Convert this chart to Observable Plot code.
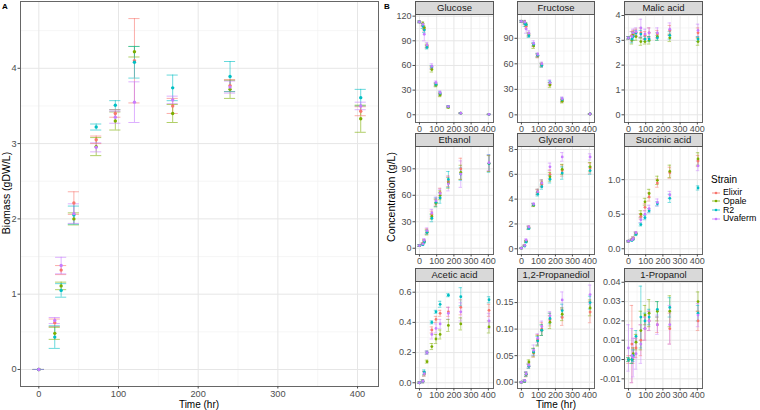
<!DOCTYPE html>
<html><head><meta charset="utf-8">
<script src="https://cdn.jsdelivr.net/npm/d3@7"></script>
<script src="https://cdn.jsdelivr.net/npm/@observablehq/plot@0.6"></script>
<style>
body{margin:0;background:#fff;font-family:"Liberation Sans",Arial,sans-serif;}
#root{position:relative;width:760px;height:410px;overflow:hidden;background:#fff;}
.abs{position:absolute;white-space:nowrap;}
.strip{position:absolute;background:#d9d9d9;border:1px solid #555;box-sizing:border-box;font-size:9.5px;color:#1a1a1a;text-align:center;}
.svgbox{position:absolute;}
</style></head><body><div id="root"></div>
<script>
// ---- data ----
const times = [0, 20, 28, 44, 72, 96, 120, 168, 240, 404];
const strains = ["Elixir", "Opale", "R2", "Uvaferm"];
const strainColors = ["#F8766D", "#7CAE00", "#00BFC4", "#C77CFF"];
const timeTicks = [0, 100, 200, 300, 400];
const timeMinor = [50, 150, 250, 350];

// Panel A: biomass (gDW/L), rows = Elixir, Opale, R2, Uvaferm
const biomassMean = [
  [0, 0.62, 1.32, 2.21, 3.05, 3.40, 4.10, 3.50, 3.77, 3.43],
  [0, 0.48, 1.11, 2.00, 2.96, 3.30, 4.22, 3.40, 3.72, 3.33],
  [0, 0.43, 1.05, 2.05, 3.22, 3.51, 4.08, 3.74, 3.89, 3.61],
  [0, 0.65, 1.38, 2.07, 2.95, 3.35, 3.55, 3.58, 3.75, 3.50]];
const biomassSd = [
  [0, 0.05, 0.06, 0.15, 0.05, 0.05, 0.56, 0.10, 0.08, 0.06],
  [0, 0.08, 0.05, 0.08, 0.12, 0.12, 0.07, 0.12, 0.12, 0.18],
  [0, 0.15, 0.09, 0.12, 0.04, 0.06, 0.21, 0.17, 0.20, 0.11],
  [0, 0.04, 0.11, 0.13, 0.06, 0.08, 0.27, 0.05, 0.08, 0.05]];
const biomassTicks = [0, 1, 2, 3, 4];

// Panel B compounds (g/L)
const glucoseMean = [
  [113, 109, 104, 83, 57, 37, 25, 10, 2, 0.5],
  [113, 111, 106, 84, 55, 36, 24, 9, 2, 0.5],
  [113, 108, 103, 82, 58, 37, 26, 10, 2, 0.5],
  [113, 110, 98, 85, 59, 39, 27, 10, 2, 0.5]];
const glucoseSd = [
  [1, 2, 2, 2, 2, 2, 2, 1, 0.5, 0.3],
  [1, 2, 2, 2, 3, 2, 2, 1, 0.5, 0.3],
  [1, 3, 3, 2, 2, 2, 2, 1, 0.5, 0.3],
  [1, 2, 8, 3, 3, 2, 2, 1, 0.5, 0.3]];
const fructoseMean = [
  [110, 108, 104, 94, 82, 69, 58, 36, 17, 1],
  [110, 109, 106, 95, 81, 70, 59, 35, 16, 1],
  [110, 107, 106, 93, 83, 70, 58, 38, 18, 1],
  [110, 109, 101, 96, 84, 71, 60, 38, 19, 1]];
const fructoseSd = [
  [1, 2, 2, 2, 2, 2, 2, 2, 2, 0.5],
  [1, 2, 2, 2, 3, 2, 2, 3, 2, 0.5],
  [1, 3, 2, 2, 2, 2, 2, 2, 2, 0.5],
  [1, 2, 5, 3, 3, 2, 2, 3, 2, 0.5]];
const malicMean = [
  [3.10, 3.20, 3.30, 3.30, 3.30, 3.20, 3.30, 3.25, 3.40, 3.30],
  [3.10, 3.00, 3.25, 3.15, 2.95, 2.95, 3.00, 3.15, 3.10, 2.95],
  [3.10, 3.05, 3.15, 3.30, 3.25, 3.05, 3.05, 3.10, 3.20, 3.05],
  [3.10, 3.15, 3.30, 3.35, 3.50, 3.25, 3.30, 3.30, 3.45, 3.40]];
const malicSd = [
  [0.05, 0.15, 0.10, 0.15, 0.20, 0.15, 0.20, 0.15, 0.20, 0.20],
  [0.05, 0.15, 0.10, 0.15, 0.15, 0.10, 0.15, 0.15, 0.15, 0.15],
  [0.05, 0.15, 0.15, 0.10, 0.15, 0.10, 0.10, 0.10, 0.15, 0.10],
  [0.05, 0.20, 0.15, 0.15, 0.35, 0.20, 0.20, 0.20, 0.25, 0.25]];
const ethanolMean = [
  [3, 5, 8, 19, 38, 52, 63, 76, 90, 96],
  [3, 5, 8, 18, 36, 51, 60, 74, 86, 96],
  [3, 4, 7, 18, 34, 52, 57, 78, 84, 96],
  [3, 5, 9, 20, 40, 54, 62, 73, 84, 97]];
const ethanolSd = [
  [1, 1, 1.5, 3, 4, 4, 5, 6, 12, 9],
  [1, 1, 1.5, 3, 3, 4, 5, 6, 8, 9],
  [1, 1, 1.5, 2, 4, 5, 6, 9, 7, 10],
  [1, 1, 2, 3, 4, 4, 5, 8, 15, 9]];
const glycerolMean = [
  [0.05, 0.25, 0.60, 1.70, 3.55, 4.55, 5.20, 6.00, 6.30, 6.50],
  [0.05, 0.25, 0.60, 1.70, 3.50, 4.60, 5.30, 5.80, 6.40, 6.60],
  [0.05, 0.22, 0.55, 1.65, 3.55, 4.40, 5.00, 5.60, 6.10, 6.30],
  [0.05, 0.27, 0.70, 1.75, 3.60, 4.60, 5.30, 6.60, 7.40, 7.40]];
const glycerolSd = [
  [0.03, 0.05, 0.08, 0.12, 0.10, 0.20, 0.25, 0.35, 0.45, 0.40],
  [0.03, 0.05, 0.08, 0.12, 0.10, 0.20, 0.25, 0.35, 0.40, 0.35],
  [0.03, 0.05, 0.08, 0.10, 0.10, 0.15, 0.20, 0.30, 0.50, 0.30],
  [0.03, 0.05, 0.10, 0.12, 0.10, 0.20, 0.25, 0.30, 0.35, 0.25]];
const succinicMean = [
  [0.11, 0.13, 0.15, 0.22, 0.47, 0.60, 0.75, 0.95, 1.10, 1.27],
  [0.11, 0.13, 0.15, 0.22, 0.50, 0.68, 0.80, 0.99, 1.12, 1.30],
  [0.11, 0.12, 0.14, 0.21, 0.35, 0.45, 0.55, 0.65, 0.73, 0.88],
  [0.11, 0.13, 0.15, 0.23, 0.42, 0.50, 0.58, 0.67, 0.78, 1.20]];
const succinicSd = [
  [0.01, 0.01, 0.02, 0.02, 0.04, 0.05, 0.06, 0.06, 0.08, 0.08],
  [0.01, 0.01, 0.02, 0.02, 0.05, 0.05, 0.06, 0.06, 0.09, 0.09],
  [0.01, 0.01, 0.01, 0.02, 0.02, 0.03, 0.03, 0.03, 0.06, 0.03],
  [0.01, 0.01, 0.02, 0.02, 0.04, 0.05, 0.05, 0.05, 0.05, 0.07]];
const aceticMean = [
  [0.00, 0.01, 0.06, 0.20, 0.35, 0.42, 0.46, 0.47, 0.50, 0.48],
  [0.00, 0.01, 0.06, 0.14, 0.24, 0.29, 0.32, 0.38, 0.39, 0.37],
  [0.00, 0.01, 0.07, 0.20, 0.40, 0.47, 0.52, 0.58, 0.57, 0.55],
  [0.00, 0.01, 0.06, 0.20, 0.32, 0.36, 0.39, 0.46, 0.47, 0.41]];
const aceticSd = [
  [0.005, 0.01, 0.015, 0.01, 0.02, 0.02, 0.02, 0.03, 0.05, 0.04],
  [0.005, 0.01, 0.015, 0.01, 0.02, 0.03, 0.03, 0.04, 0.04, 0.04],
  [0.005, 0.01, 0.015, 0.01, 0.01, 0.01, 0.02, 0.01, 0.06, 0.02],
  [0.005, 0.01, 0.015, 0.01, 0.03, 0.03, 0.03, 0.04, 0.06, 0.05]];
const propanediolMean = [
  [0, 0.002, 0.014, 0.030, 0.055, 0.080, 0.100, 0.118, 0.122, 0.132],
  [0, 0.002, 0.015, 0.038, 0.056, 0.078, 0.098, 0.113, 0.128, 0.140],
  [0, 0.002, 0.015, 0.030, 0.057, 0.078, 0.098, 0.120, 0.135, 0.150],
  [0, 0.003, 0.016, 0.032, 0.060, 0.083, 0.105, 0.125, 0.155, 0.165]];
const propanediolSd = [
  [0.001, 0.002, 0.004, 0.004, 0.008, 0.010, 0.012, 0.012, 0.015, 0.020],
  [0.001, 0.002, 0.004, 0.004, 0.008, 0.010, 0.010, 0.012, 0.012, 0.015],
  [0.001, 0.002, 0.004, 0.004, 0.006, 0.008, 0.010, 0.010, 0.012, 0.012],
  [0.001, 0.002, 0.004, 0.004, 0.010, 0.008, 0.010, 0.008, 0.015, 0.018]];
const propanolMean = [
  [0.000, 0.008, 0.002, 0.006, 0.010, 0.016, 0.020, 0.018, 0.016, 0.020],
  [0.000, 0.000, 0.003, 0.009, 0.015, 0.023, 0.024, 0.025, 0.025, 0.030],
  [0.000, 0.000, 0.002, 0.012, 0.022, 0.020, 0.022, 0.026, 0.027, 0.024],
  [0.006, 0.002, 0.001, 0.003, 0.008, 0.016, 0.020, 0.018, 0.018, 0.023]];
const propanolSd = [
  [0.002, 0.020, 0.004, 0.005, 0.008, 0.006, 0.005, 0.004, 0.008, 0.005],
  [0.001, 0.002, 0.003, 0.004, 0.010, 0.005, 0.007, 0.005, 0.008, 0.005],
  [0.001, 0.002, 0.003, 0.003, 0.016, 0.004, 0.004, 0.004, 0.005, 0.004],
  [0.012, 0.014, 0.010, 0.008, 0.010, 0.006, 0.005, 0.005, 0.010, 0.006]];

// facet definitions: title, arrays, ticks, label decimals
const facetTitles = ["Glucose", "Fructose", "Malic acid", "Ethanol", "Glycerol", "Succinic acid", "Acetic acid", "1,2-Propanediol", "1-Propanol"];
const facetMeans = [glucoseMean, fructoseMean, malicMean, ethanolMean, glycerolMean, succinicMean, aceticMean, propanediolMean, propanolMean];
const facetSds = [glucoseSd, fructoseSd, malicSd, ethanolSd, glycerolSd, succinicSd, aceticSd, propanediolSd, propanolSd];
const facetTicks = [[0, 30, 60, 90, 120], [0, 30, 60, 90], [0, 1, 2, 3, 4], [0, 30, 60, 90], [0, 2, 4, 6, 8], [0, 0.5, 1.0], [0, 0.2, 0.4, 0.6], [0, 0.05, 0.10, 0.15], [-0.01, 0, 0.01, 0.02, 0.03, 0.04]];
const facetDecimals = [0, 0, 0, 0, 0, 1, 1, 2, 2];
const facetDomains = [[-9.4, 122], [-9, 118], [-0.31, 4.04], [-7.1, 115.3], [-0.46, 8.24], [-0.083, 1.48], [-0.038, 0.671], [-0.0119, 0.1897], [-0.0150, 0.0404]];

// ---- layout ----
const FONT = '"Liberation Sans", Arial, sans-serif';
const root = document.getElementById("root");
function rows(mean, sd) {
  const out = [];
  strains.forEach((s, i) => times.forEach((t, j) => {
    out.push({strain: s, t, v: mean[i][j], lo: mean[i][j] - sd[i][j], hi: mean[i][j] + sd[i][j]});
  }));
  return out;
}
function midpoints(ticks) {
  const m = [];
  for (let i = 0; i < ticks.length - 1; i++) m.push((ticks[i] + ticks[i + 1]) / 2);
  return m;
}
function errMarks(data, cap, r, sw) {
  return [
    Plot.ruleX(data, {x: "t", y1: "lo", y2: "hi", stroke: "strain", strokeWidth: sw, strokeOpacity: 0.85}),
    Plot.ruleY(data, {y: "lo", x1: d => d.t - cap, x2: d => d.t + cap, stroke: "strain", strokeWidth: sw, strokeOpacity: 0.85}),
    Plot.ruleY(data, {y: "hi", x1: d => d.t - cap, x2: d => d.t + cap, stroke: "strain", strokeWidth: sw, strokeOpacity: 0.85}),
    Plot.dot(data, {x: "t", y: "v", fill: "strain", r, stroke: null})
  ];
}
function place(el, left, top) {
  const box = document.createElement("div");
  box.className = "svgbox";
  box.style.left = left + "px";
  box.style.top = top + "px";
  box.appendChild(el);
  root.appendChild(box);
}
function text(str, left, top, opts = {}) {
  const d = document.createElement("div");
  d.className = "abs";
  d.textContent = str;
  d.style.left = left + "px";
  d.style.top = top + "px";
  d.style.fontSize = (opts.size || 10) + "px";
  d.style.color = opts.color || "#000";
  if (opts.bold) d.style.fontWeight = "bold";
  root.appendChild(d);
  return d;
}
const colorScale = {domain: strains, range: strainColors};
const baseStyle = {fontFamily: FONT, background: "transparent", overflow: "visible"};

// ---- Panel A ----
const A = Plot.plot({
  width: 380, height: 406, marginLeft: 20, marginRight: 2, marginTop: 1, marginBottom: 20,
  x: {domain: [-23, 426.3]},
  y: {domain: [-0.226, 4.887]},
  color: colorScale,
  style: baseStyle,
  marks: [
    Plot.gridY(midpoints(biomassTicks).concat([4.5]), {stroke: "#f2f2f2", strokeOpacity: 1, strokeWidth: 0.7}),
    Plot.gridX(timeMinor, {stroke: "#f2f2f2", strokeOpacity: 1, strokeWidth: 0.7}),
    Plot.gridY(biomassTicks, {stroke: "#e6e6e6", strokeOpacity: 1, strokeWidth: 1}),
    Plot.gridX(timeTicks, {stroke: "#e6e6e6", strokeOpacity: 1, strokeWidth: 1}),
    ...errMarks(rows(biomassMean, biomassSd), 7, 1.7, 0.7),
    Plot.frame({stroke: "#666", strokeWidth: 1}),
    Plot.axisX(timeTicks, {tickSize: 2.5, tickPadding: 1.5, fontSize: 9.2, label: null, color: "#4d4d4d", tickFormat: d => d.toFixed(0)}),
    Plot.axisY(biomassTicks, {tickSize: 2.5, tickPadding: 1.5, fontSize: 9.2, label: null, color: "#4d4d4d", tickFormat: d => d.toFixed(0)})
  ]
});
place(A, 0, 0);
text("A", 2, 2, {size: 8, bold: true});
const ya = text("Biomass (gDW/L)", 0, 0, {size: 10.5});
ya.style.left = "6px"; ya.style.top = "193px";
ya.style.transform = "translate(-50%,-50%) rotate(-90deg)";
const xa = text("Time (hr)", 0, 0, {size: 10});
xa.style.left = "199px"; xa.style.top = "404.5px"; xa.style.transform = "translate(-50%,-50%)";
xa.style.lineHeight = "10px";

// ---- Panel B ----
text("B", 384, 2, {size: 8, bold: true});
const colL = [415, 517, 624], colR = [493, 594, 702];
const stripT = [1, 133, 268], panelT = [14, 146, 281], panelB = [122, 254, 388];
facetTitles.forEach((title, k) => {
  const c = k % 3, r = Math.floor(k / 3);
  const ticks = facetTicks[k];
  const dec = facetDecimals[k];
  const pw = colR[c] - colL[c], ph = panelB[r] - panelT[r];
  const ML = 34, MR = 3, MT = 1, MB = 12;
  const p = Plot.plot({
    width: ML + pw + MR, height: MT + ph + MB,
    marginLeft: ML, marginRight: MR, marginTop: MT, marginBottom: MB,
    x: {domain: [-23, 430]},
    y: {domain: facetDomains[k]},
    color: colorScale,
    style: baseStyle,
    marks: [
      Plot.gridY(midpoints(ticks), {stroke: "#f2f2f2", strokeOpacity: 1, strokeWidth: 0.7}),
      Plot.gridX(timeMinor, {stroke: "#f2f2f2", strokeOpacity: 1, strokeWidth: 0.7}),
      Plot.gridY(ticks, {stroke: "#e6e6e6", strokeOpacity: 1, strokeWidth: 1}),
      Plot.gridX(timeTicks, {stroke: "#e6e6e6", strokeOpacity: 1, strokeWidth: 1}),
      ...errMarks(rows(facetMeans[k], facetSds[k]), 10, 1.4, 0.6),
      Plot.frame({stroke: "#666", strokeWidth: 1}),
      Plot.axisX(timeTicks, {tickSize: 2.5, tickPadding: 0.5, fontSize: 9, label: null, color: "#4d4d4d", tickFormat: d => d.toFixed(0)}),
      Plot.axisY(ticks, {tickSize: 2.5, tickPadding: 1.5, fontSize: 9, label: null, color: "#4d4d4d", tickFormat: d => d.toFixed(dec)})
    ]
  });
  place(p, colL[c] - ML, panelT[r] - MT);
  const s = document.createElement("div");
  s.className = "strip";
  s.textContent = title;
  s.style.left = colL[c] + "px";
  s.style.top = stripT[r] + "px";
  s.style.width = (pw + 1) + "px";
  s.style.height = (panelT[r] - stripT[r] + 1) + "px";
  s.style.lineHeight = (panelT[r] - stripT[r] - 1) + "px";
  root.appendChild(s);
});
const yb = text("Concentration (g/L)", 0, 0, {size: 10.5});
yb.style.left = "391px"; yb.style.top = "197px";
yb.style.transform = "translate(-50%,-50%) rotate(-90deg)";
const xb = text("Time (hr)", 0, 0, {size: 10});
xb.style.left = "556px"; xb.style.top = "404.5px"; xb.style.transform = "translate(-50%,-50%)";
xb.style.lineHeight = "10px";

// ---- Legend ----
const lt = text("Strain", 711, 174, {size: 10});
lt.style.lineHeight = "12px";
strains.forEach((s, i) => {
  const y = 192.5 + i * 8.8;
  const key = document.createElementNS("http://www.w3.org/2000/svg", "svg");
  key.setAttribute("width", 10); key.setAttribute("height", 8);
  key.style.position = "absolute";
  key.style.left = "711px"; key.style.top = (y - 4) + "px";
  key.innerHTML = `<line x1="1" x2="9" y1="4" y2="4" stroke="${strainColors[i]}" stroke-width="0.8"/><circle cx="5" cy="4" r="1.3" fill="${strainColors[i]}"/>`;
  root.appendChild(key);
  const t = text(s, 723, 0, {size: 8.8});
  t.style.top = (y - 4.5) + "px";
  t.style.lineHeight = "9px";
});
</script></body></html>
